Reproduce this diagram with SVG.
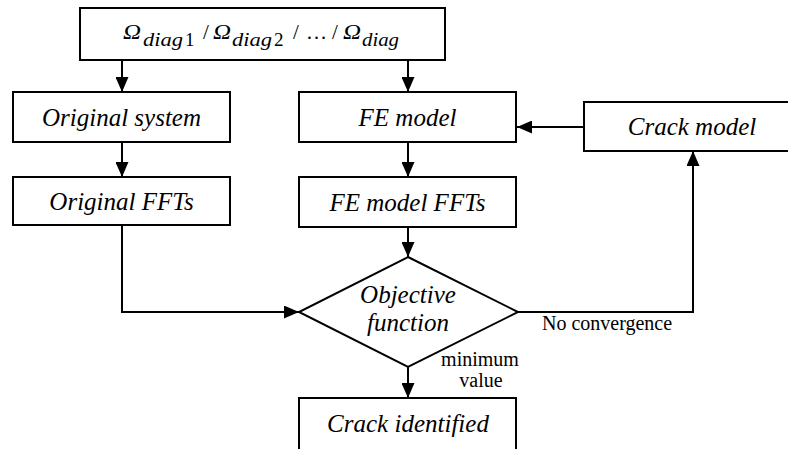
<svg xmlns="http://www.w3.org/2000/svg" width="788" height="449" viewBox="0 0 788 449">
<style>
.box{fill:#fff;stroke:#000;stroke-width:2}
.con{fill:none;stroke:#000;stroke-width:2}
</style>
<defs>
<marker id="ah" markerUnits="userSpaceOnUse" markerWidth="15" markerHeight="13" refX="15" refY="6.5" orient="auto">
<path d="M0,0 L15,6.5 L0,13 z" fill="#000"/>
</marker>
</defs>
<rect width="788" height="449" fill="#fff"/>
<g id="connectors">
<line class="con" x1="122" y1="60" x2="122" y2="92" marker-end="url(#ah)"/>
<line class="con" x1="408" y1="60" x2="408" y2="92" marker-end="url(#ah)"/>
<line class="con" x1="122" y1="142" x2="122" y2="177" marker-end="url(#ah)"/>
<line class="con" x1="408" y1="142" x2="408" y2="177" marker-end="url(#ah)"/>
<line class="con" x1="584" y1="127" x2="517" y2="127" stroke-width="3" marker-end="url(#ah)"/>
<line class="con" x1="408" y1="227" x2="408" y2="257" marker-end="url(#ah)"/>
<path class="con" d="M122,225 V312 H299" marker-end="url(#ah)"/>
<path class="con" d="M518,312 H693 V151" marker-end="url(#ah)"/>
<line class="con" x1="408" y1="367" x2="408" y2="398" marker-end="url(#ah)"/>
<g font-family="Liberation Serif, serif" font-size="20" fill="#000">
<text x="542" y="330">No convergence</text>
<text x="480" y="366" text-anchor="middle">minimum</text>
<text x="481" y="387" text-anchor="middle">value</text>
</g>
</g>
<g id="omega">
<rect class="box" x="80" y="8" width="365" height="52"/>
<text font-family="Liberation Serif, serif" y="39" font-size="21" fill="#000"><tspan x="123" font-style="italic" textLength="18" lengthAdjust="spacingAndGlyphs">Ω</tspan><tspan x="143" dy="7" font-size="19" font-style="italic" textLength="40" lengthAdjust="spacingAndGlyphs">diag</tspan><tspan x="185" font-size="19">1</tspan><tspan x="203" dy="-7">/</tspan><tspan x="213" font-style="italic" textLength="18" lengthAdjust="spacingAndGlyphs">Ω</tspan><tspan x="232" dy="7" font-size="19" font-style="italic" textLength="40" lengthAdjust="spacingAndGlyphs">diag</tspan><tspan x="274" font-size="19">2</tspan><tspan x="293" dy="-7">/</tspan><tspan x="306">…</tspan><tspan x="332">/</tspan><tspan x="343" font-style="italic" textLength="18" lengthAdjust="spacingAndGlyphs">Ω</tspan><tspan x="362" dy="7" font-size="19" font-style="italic" textLength="37" lengthAdjust="spacingAndGlyphs">diag</tspan></text>
</g>
<g font-family="Liberation Serif, serif" font-style="italic" font-size="25" fill="#000" text-anchor="middle">
<g id="original-system">
<rect class="box" x="13" y="92" width="217" height="50"/>
<text x="121.5" y="126">Original system</text>
</g>
<g id="fe-model">
<rect class="box" x="299" y="92" width="217" height="50"/>
<text x="407.5" y="126">FE model</text>
</g>
<g id="crack-model">
<rect class="box" x="584" y="102" width="217" height="49"/>
<text x="692" y="135">Crack model</text>
</g>
<g id="original-ffts">
<rect class="box" x="13" y="177" width="217" height="48"/>
<text x="121.5" y="210">Original FFTs</text>
</g>
<g id="fe-model-ffts">
<rect class="box" x="299" y="177" width="217" height="50"/>
<text x="407.5" y="211">FE model FFTs</text>
</g>
<g id="objective-function">
<polygon points="408,257 518,312 408,367 299,312" fill="#fff" stroke="#000" stroke-width="2"/>
<text x="408" y="303">Objective</text>
<text x="408" y="331">function</text>
</g>
<g id="crack-identified">
<rect class="box" x="299" y="398" width="217" height="70"/>
<text x="408" y="432">Crack identified</text>
</g>
</g>
</svg>
